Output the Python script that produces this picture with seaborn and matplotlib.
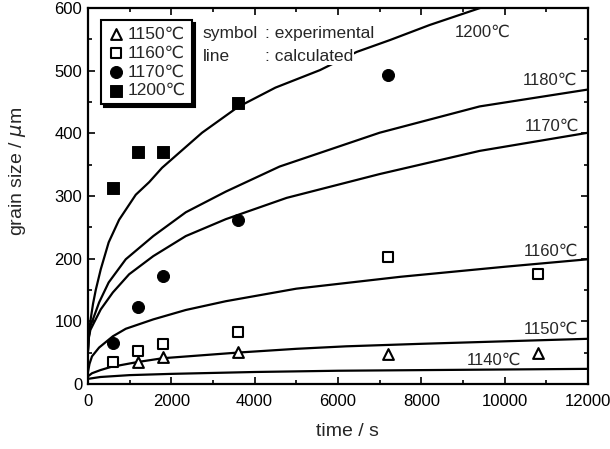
import matplotlib
matplotlib.use("Agg")
import matplotlib.pyplot as plt
import seaborn as sns

# ============================================
# DATA
# ============================================

# calculated curves: time (s) and grain size (um)
t_1140 = [0, 300, 1000, 2000, 4000, 6000, 8000, 10000, 12000]
d_1140 = [8, 11, 14, 16, 19, 21, 22, 23, 24]

t_1150 = [0, 100, 300, 550, 1200, 1800, 2400, 3600, 5000, 6200, 8000, 10000, 12000]
d_1150 = [12, 17, 22, 27, 35, 41, 44, 50, 56, 60, 64, 68, 72]

t_1160 = [0, 40, 100, 270, 600, 910, 1570, 2350, 3310, 5000, 7500, 10000, 12000]
d_1160 = [18, 32, 44, 58, 76, 88, 103, 118, 132, 152, 171, 187, 199]

t_1170 = [0, 20, 60, 150, 310, 600, 990, 1570, 2350, 3310, 4770, 7000, 9400, 12000]
d_1170 = [50, 72, 86, 98, 119, 146, 175, 204, 236, 263, 297, 335, 372, 401]

t_1180 = [0, 20, 60, 150, 270, 500, 910, 1570, 2350, 3310, 4600, 7000, 9400, 12000]
d_1180 = [50, 75, 92, 108, 130, 162, 199, 236, 274, 307, 347, 401, 443, 470]

t_1200 = [0, 20, 60, 125, 190, 310, 500, 750, 1150, 1470, 1780, 2740, 3600, 4500,
          5570, 6450, 7250, 8200, 9450]
d_1200 = [50, 72, 100, 128, 150, 183, 226, 262, 302, 322, 345, 401, 442, 473,
          501, 530, 549, 573, 601]

# experimental points
te_1150 = [1200, 1800, 3600, 7200, 10800]
de_1150 = [35, 43, 51, 48, 49]

te_1160 = [600, 1200, 1800, 3600, 7200, 10800]
de_1160 = [35, 52, 64, 83, 202, 175]

te_1170 = [600, 1200, 1800, 3600, 7200]
de_1170 = [65, 122, 172, 262, 493]

te_1200 = [600, 1200, 1800, 3600]
de_1200 = [312, 371, 371, 449]

curves = [
    (t_1140, d_1140, "1140℃", 9740, 37),
    (t_1150, d_1150, "1150℃", 11100, 88),
    (t_1160, d_1160, "1160℃", 11100, 212),
    (t_1170, d_1170, "1170℃", 11140, 412),
    (t_1180, d_1180, "1180℃", 11090, 484),
    (t_1200, d_1200, "1200℃", 9480, 562),
]

# ============================================
# STYLE
# ============================================

sns.set_style("ticks")
plt.rcParams['font.family'] = ['Liberation Sans', 'DejaVu Sans']
plt.rcParams['mathtext.fontset'] = 'dejavusans'

fig = plt.figure(figsize=(6.1, 4.49), dpi=100)
ax = fig.add_axes([0.144, 0.145, 0.82, 0.837])

# ============================================
# CALCULATED LINES
# ============================================

for t, d, name, lx, ly in curves:
    sns.lineplot(x=t, y=d, color='black', linewidth=1.6, ax=ax,
                 estimator=None, sort=False)
    ax.text(lx, ly, name, fontsize=12, ha='center', va='center')

# ============================================
# EXPERIMENTAL POINTS
# ============================================

sns.scatterplot(x=te_1150, y=de_1150, marker='^', s=60, facecolor='white',
                edgecolor='black', linewidth=1.5, label='1150℃', ax=ax, zorder=3)
sns.scatterplot(x=te_1160, y=de_1160, marker='s', s=60, facecolor='white',
                edgecolor='black', linewidth=1.5, label='1160℃', ax=ax, zorder=3)
sns.scatterplot(x=te_1170, y=de_1170, marker='o', s=75, color='black',
                edgecolor='black', label='1170℃', ax=ax, zorder=3)
sns.scatterplot(x=te_1200, y=de_1200, marker='s', s=70, color='black',
                edgecolor='black', label='1200℃', ax=ax, zorder=3)

leg = ax.legend(loc='upper left', bbox_to_anchor=(0.026, 0.968), fontsize=12.5,
                frameon=True, fancybox=False, edgecolor='black',
                handletextpad=0.2, handlelength=1.0, borderpad=0.35,
                labelspacing=0.22, borderaxespad=0,
                shadow={'color': 'black', 'alpha': 1})
leg.get_frame().set_linewidth(1.5)

# annotation text (white box hides the line behind it)
ax.text(2760, 560, "symbol", fontsize=12.5, ha='left', va='center')
ax.text(4250, 560, ": experimental", fontsize=12.5, ha='left', va='center')
ax.text(2760, 523, "line", fontsize=12.5, ha='left', va='center')
ax.text(4250, 523, ": calculated", fontsize=12.5, ha='left', va='center',
        bbox=dict(facecolor='white', edgecolor='none', pad=0.5), zorder=4)

# ============================================
# AXES
# ============================================

ax.set_xlim(0, 12000)
ax.set_ylim(0, 600)
ax.set_xticks(range(0, 12001, 2000))
ax.set_xticks(range(0, 12001, 1000), minor=True)
ax.set_yticks(range(0, 601, 100))
ax.set_yticks(range(0, 601, 50), minor=True)
ax.tick_params(which='both', direction='in', top=True, right=True,
               labelsize=12, width=1.2, colors='black')
ax.tick_params(which='major', length=5)
ax.tick_params(which='minor', length=3)
ax.tick_params(axis='x', pad=7)
ax.tick_params(axis='y', pad=4)
for sp in ax.spines.values():
    sp.set_linewidth(1.6)
    sp.set_color('black')

ax.set_xlabel("time / s", fontsize=14)
ax.set_ylabel("grain size / $\\mu$m", fontsize=14)
ax.xaxis.set_label_coords(0.518, -0.105)
ax.yaxis.set_label_coords(-0.12, 0.565)

plt.savefig("out.png", dpi=100)
